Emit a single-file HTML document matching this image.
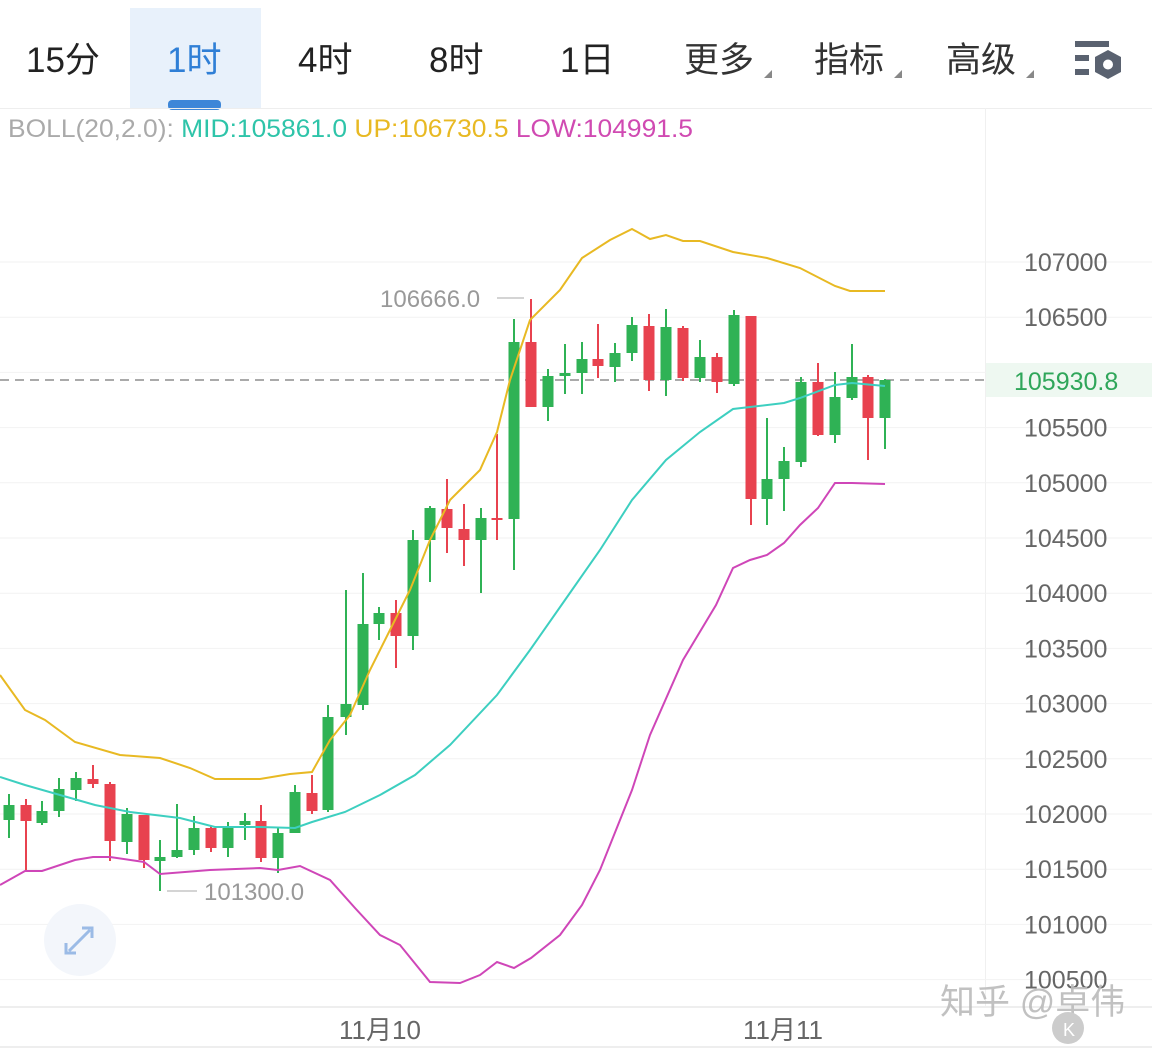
<!DOCTYPE html>
<html><head><meta charset="utf-8"><style>
body{margin:0;width:1152px;height:1051px;background:#fff;overflow:hidden;font-family:"Liberation Sans","Noto Sans CJK SC",sans-serif;}
svg{position:absolute;left:0;top:0}
</style></head><body>
<svg id="s" width="1152" height="1051" xmlns="http://www.w3.org/2000/svg" font-family="Liberation Sans, Noto Sans CJK SC, sans-serif">
<rect x="130" y="8" width="131" height="100" fill="#e8f1fb"/>
<rect x="168" y="100" width="53" height="10" rx="4" fill="#3d86d8"/>
<line x1="0" y1="108.5" x2="1152" y2="108.5" stroke="#eee"/>
<g font-size="35" fill="#222" font-family="Liberation Sans, Noto Sans CJK SC, sans-serif">
<text x="26" y="72">15分</text>
<text x="167" y="72" fill="#2f7fd6">1时</text>
<text x="298" y="72">4时</text>
<text x="429" y="72">8时</text>
<text x="560" y="72">1日</text>
<text x="684" y="72" fill="#333">更多</text>
<text x="814" y="72" fill="#333">指标</text>
<text x="946" y="72" fill="#333">高级</text>
</g>
<polygon points="764,78 772,70 772,78" fill="#888"/>
<polygon points="894,78 902,70 902,78" fill="#888"/>
<polygon points="1026,78 1034,70 1034,78" fill="#888"/>
<g fill="#5a6270"><rect x="1075" y="41" width="34" height="6"/><rect x="1075" y="55" width="14" height="6"/><rect x="1075" y="69" width="14" height="6"/></g>
<polygon points="1108,50 1121,57 1121,72 1108,79 1095,72 1095,57" fill="#5a6270"/><circle cx="1108" cy="64.5" r="5" fill="#fff"/>
<text x="8" y="137" font-size="25" textLength="685" lengthAdjust="spacingAndGlyphs"><tspan fill="#aaa">BOLL(20,2.0): </tspan><tspan fill="#2ec4a9">MID:105861.0 </tspan><tspan fill="#e8b923">UP:106730.5 </tspan><tspan fill="#d04ab2">LOW:104991.5</tspan></text>
<line x1="985.5" y1="108" x2="985.5" y2="1007" stroke="#f0f0f0"/>
<g id="grid" stroke="#f2f2f2"></g>
<line x1="0" y1="1007" x2="1152" y2="1007" stroke="#eee" stroke-width="2"/>
<line x1="0" y1="1047" x2="1152" y2="1047" stroke="#eee" stroke-width="2"/>
<line x1="0" y1="380" x2="985" y2="380" stroke="#aaa" stroke-width="2" stroke-dasharray="9,6"/>
<rect x="986" y="363" width="166" height="34" fill="#eef8f1"/>
<text x="1014" y="390" font-size="25" fill="#2fa65a">105930.8</text>
<g id="labels" font-size="25" fill="#666"></g>
<g id="c"></g>
<polyline fill="none" stroke="#e8b923" stroke-width="2" points="0,675 25,710 45,720 75,742 120,755 160,758 190,768 215,779 260,779 290,774 312,772 330,740 350,715 370,670 390,630 410,590 430,540 450,500 480,470 497,432 510,380 530,320 560,290 582,258 610,240 632,229 650,239 666,235 683,241 700,241 733,252 767,258 800,268 835,286 850,291 885,291"/>
<polyline fill="none" stroke="#3dcfc0" stroke-width="2" points="0,777 25,785 60,795 95,805 130,812 180,818 215,827 260,827 295,828 312,822 345,812 380,795 415,775 450,745 497,695 530,650 565,600 600,550 632,500 666,460 700,432 733,409 750,407 784,403 800,398 835,385 852,383 885,386"/>
<polyline fill="none" stroke="#cf46b8" stroke-width="2" points="0,885 25,871 42,871 75,860 93,857 110,857 144,862 160,874 210,870 260,868 278,870 300,866 330,880 355,908 380,935 400,945 430,982 460,983 480,975 497,962 514,968 531,958 560,935 582,905 600,870 632,790 650,735 683,660 716,605 733,568 750,560 767,555 784,543 800,525 818,508 835,483 852,483 885,484"/>
<line x1="497" y1="298" x2="524" y2="298" stroke="#aaa"/>
<text x="380" y="307" font-size="24" fill="#999">106666.0</text>
<line x1="167" y1="891" x2="197" y2="891" stroke="#aaa"/>
<text x="204" y="900" font-size="24" fill="#999">101300.0</text>
<circle cx="80" cy="940" r="36" fill="#f3f6fb"/>
<g stroke="#9bbbe6" stroke-width="3" fill="none"><path d="M69,951 L90,930 M82,928 H92 V938 M66,943 V953 H76"/></g>
<text x="339" y="1039" font-size="26" fill="#666">11月10</text>
<text x="743" y="1039" font-size="26" fill="#666">11月11</text>
<text x="940" y="1014" font-size="35" fill="#bbb" opacity="0.9">知乎 @卓伟</text>
<circle cx="1068" cy="1028" r="16" fill="#ccc"/>
<text x="1063" y="1036" font-size="18" fill="#fff">K</text>
</svg>
<script>
var ns="http://www.w3.org/2000/svg";
function el(p,t,a){var e=document.createElementNS(ns,t);for(var k in a)e.setAttribute(k,a[k]);p.appendChild(e);return e;}
var g=document.getElementById('grid'),lb=document.getElementById('labels');
for(var i=0;i<14;i++){var p=107000-500*i,y=262+55.2*i;
 el(g,'line',{x1:0,y1:y,x2:1152,y2:y});
 if(p!=106000){var t=el(lb,'text',{x:1024,y:y+9});t.textContent=p;}}
var d=[[9,'G',805,820,794,838],[26,'R',805,821,799,870],[42,'G',811,823,801,825],[59,'G',789,811,778,817],[76,'G',778,790,772,801],[93,'R',779,784,765,788],[110,'R',784,841,782,861],[127,'G',814,842,808,854],[144,'R',815,860,815,868],[160,'G',857,861,840,891],[177,'G',850,857,804,858],[194,'G',828,850,816,855],[211,'R',828,848,826,852],[228,'G',827,848,822,857],[245,'G',821,825,813,840],[261,'R',821,858,805,862],[278,'G',833,858,827,873],[295,'G',792,833,785,833],[312,'R',793,811,775,814],[328,'G',717,810,705,812],[346,'G',704,717,590,735],[363,'G',624,705,573,710],[379,'G',613,624,607,640],[396,'R',613,636,600,668],[413,'G',540,636,530,650],[430,'G',508,540,506,582],[447,'R',509,528,479,553],[464,'R',529,540,504,566],[481,'G',518,540,508,593],[497,'R',518,520,434,540],[514,'G',342,519,319,570],[531,'R',342,407,299,407],[548,'G',376,407,369,421],[565,'G',373,376,344,394],[582,'G',359,373,342,394],[598,'R',359,366,324,378],[615,'G',353,367,343,382],[632,'G',325,353,317,361],[649,'R',326,380,314,391],[666,'G',327,380,309,396],[683,'R',328,378,326,381],[700,'G',357,378,340,382],[717,'R',357,382,353,393],[734,'G',315,384,310,386],[751,'R',316,499,316,525],[767,'G',479,499,418,525],[784,'G',461,479,447,511],[801,'G',382,462,377,467],[818,'R',382,435,363,436],[835,'G',397,435,372,443],[852,'G',377,398,344,400],[868,'R',377,418,375,460],[885,'G',380,418,379,449]];
var c=document.getElementById('c');
d.forEach(function(k){var col=k[1]=='G'?'#2fb255':'#e8424f';
 el(c,'line',{x1:k[0],y1:k[4],x2:k[0],y2:k[5],stroke:col,'stroke-width':2});
 el(c,'rect',{x:k[0]-5.5,y:k[2],width:11,height:Math.max(2,k[3]-k[2]),fill:col});});
</script>
</body></html>
